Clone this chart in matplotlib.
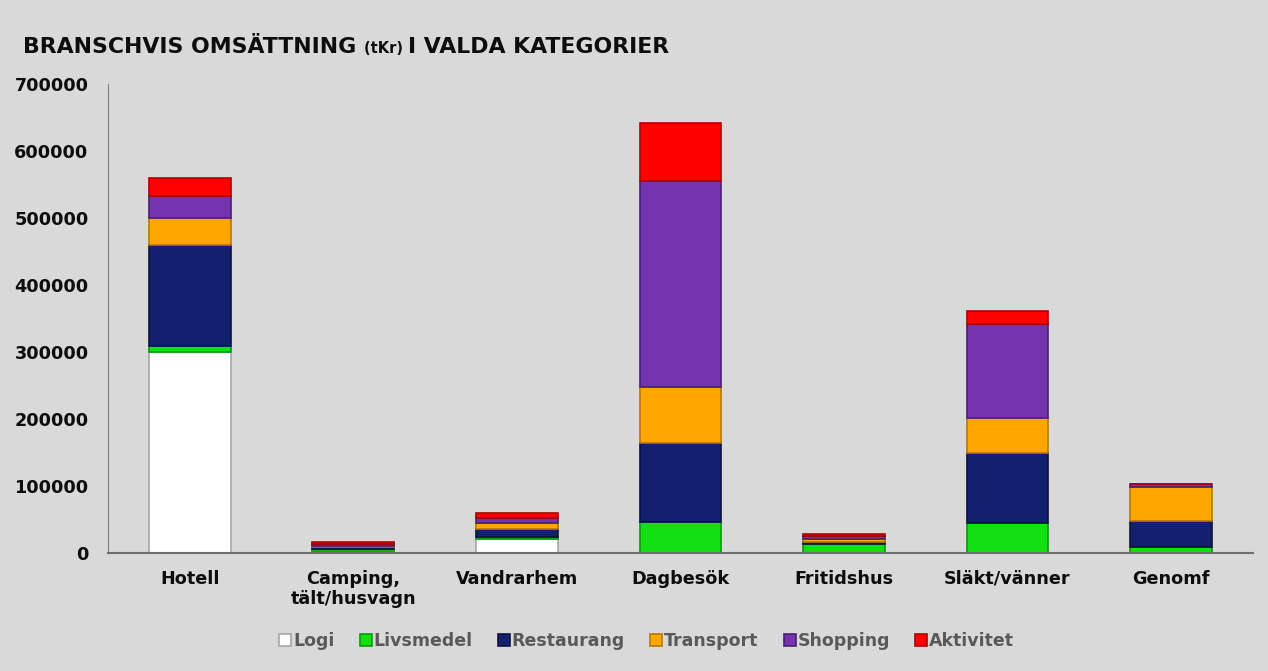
import numpy as np
import matplotlib.pyplot as plt

# Data (tKr)
kategorier = ['Hotell', 'Camping,\ntält/husvagn', 'Vandrarhem', 'Dagbesök',
              'Fritidshus', 'Släkt/vänner', 'Genomf']
logi = [300000, 2500, 21000, 0, 0, 0, 0]
livsmedel = [9000, 3500, 3000, 46000, 13000, 44000, 9000]
restaurang = [151000, 2500, 12000, 118000, 3000, 105000, 39000]
transport = [40000, 2500, 9000, 84000, 5000, 52000, 50000]
shopping = [33000, 2500, 7000, 307000, 4000, 141000, 5000]
aktivitet = [27000, 2500, 8000, 87000, 3000, 19000, 0]

serier = ['Logi', 'Livsmedel', 'Restaurang', 'Transport', 'Shopping', 'Aktivitet']
varden = [logi, livsmedel, restaurang, transport, shopping, aktivitet]
farger = ['#ffffff', '#12e012', '#13206f', '#ffa500', '#7434ad', '#ff0000']
kanter = ['#a6a6a6', '#0a9a0a', '#0b1240', '#b87800', '#4a1f70', '#b00000']

bg = '#d9d9d9'
plt.rcParams['font.family'] = ['DejaVu Sans']

fig = plt.figure(figsize=(12.68, 6.71), dpi=100, facecolor=bg)
ax = fig.add_axes([0.0852, 0.1759, 0.9028, 0.6989], facecolor=bg)

x = np.arange(len(kategorier))
botten = np.zeros(len(kategorier))
for namn, v, f, k in zip(serier, varden, farger, kanter):
    v = np.array(v, dtype=float)
    ax.bar(x, v, 0.5, bottom=botten, color=f, edgecolor=k, linewidth=1.2,
           label=namn, zorder=2)
    botten += v

ax.set_xlim(-0.5, 6.5)
ax.set_ylim(0, 700000)
ax.set_yticks(np.arange(0, 700001, 100000))
ax.set_yticklabels([str(t) for t in range(0, 700001, 100000)],
                   fontweight='bold', fontsize=12.7, color='#0d0d0d')
ax.set_xticks(x)
ax.set_xticklabels(kategorier, fontweight='bold', fontsize=12.7, color='#0d0d0d')
ax.tick_params(axis='y', length=0, pad=14)
ax.tick_params(axis='x', length=0, pad=12)
for s in ['top', 'right']:
    ax.spines[s].set_visible(False)
ax.spines['left'].set_color('#808080')
ax.spines['bottom'].set_color('#6e6e6e')
ax.spines['bottom'].set_linewidth(1.5)

# Title with smaller "(tKr)"
ty = 0.921
t1 = fig.text(0.018, ty, 'BRANSCHVIS OMSÄTTNING ', fontsize=15.8, fontweight='bold',
              color='#0d0d0d', va='baseline')
fig.canvas.draw()
bb = t1.get_window_extent()
inv = fig.transFigure.inverted()
x2 = inv.transform((bb.x1, 0))[0]
t2 = fig.text(x2, ty, '(tKr) ', fontsize=10.5, fontweight='bold', color='#0d0d0d',
              va='baseline')
fig.canvas.draw()
x3 = inv.transform((t2.get_window_extent().x1, 0))[0]
fig.text(x3, ty, 'I VALDA KATEGORIER', fontsize=15.8, fontweight='bold',
         color='#0d0d0d', va='baseline')

leg = fig.legend(loc='center', bbox_to_anchor=(0.51, 0.045), ncol=6, frameon=False,
                 handlelength=0.7, handleheight=0.7, handletextpad=0.1,
                 columnspacing=1.45, prop={'weight': 'bold', 'size': 12.5})
for txt in leg.get_texts():
    txt.set_color('#595959')

fig.savefig('out.png', dpi=100, facecolor=bg)
